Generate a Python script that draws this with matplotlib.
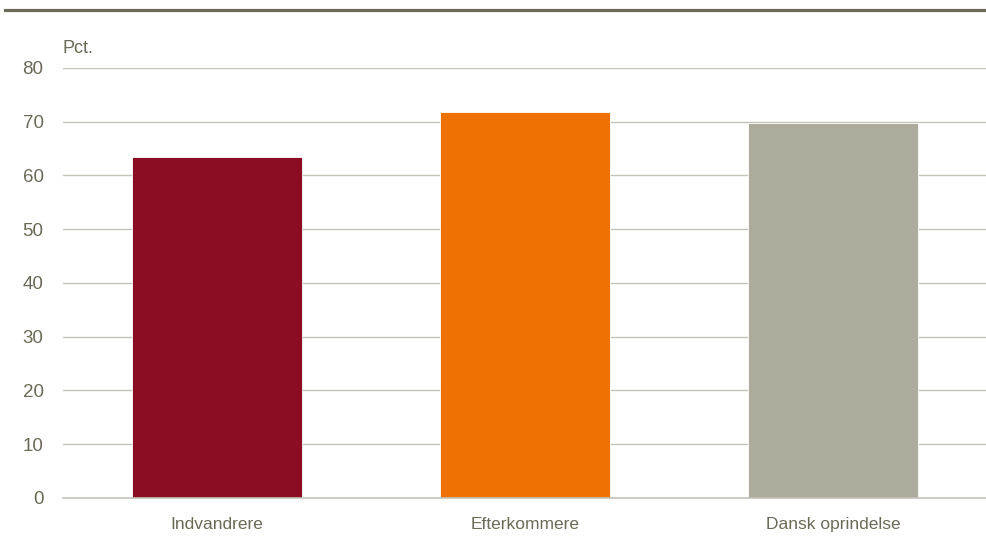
import matplotlib.pyplot as plt
from matplotlib.lines import Line2D

categories = ['Indvandrere', 'Efterkommere', 'Dansk oprindelse']
values = [63.4, 71.8, 69.8]
colors = ['#8B0D23', '#EE7203', '#ADAB9B']
yticks = [0, 10, 20, 30, 40, 50, 60, 70, 80]

text_color = '#6B6A58'
grid_color = '#C4C3B8'

plt.rcParams['font.family'] = ['Liberation Sans', 'DejaVu Sans']

fig = plt.figure(figsize=(9.87, 5.44), dpi=100)
ax = fig.add_axes([0.0638, 0.0846, 0.936, 0.7904])

x = list(range(len(categories)))
ax.bar(x, values, width=0.55, color=colors, zorder=3, edgecolor='white', linewidth=0.6)

ax.set_xlim(-0.5, 2.5)
ax.set_ylim(0, 80)
ax.set_yticks(yticks)
ax.set_xticks(x)
ax.set_xticklabels(categories)
ax.grid(axis='y', color=grid_color, linewidth=1, zorder=0)
ax.axhline(0, color=grid_color, linewidth=1.2, zorder=4, clip_on=False)
ax.set_axisbelow(True)

for s in ax.spines.values():
    s.set_visible(False)
ax.tick_params(axis='both', length=0, colors=text_color, labelsize=13.5)
ax.tick_params(axis='y', pad=14)
ax.tick_params(axis='x', pad=14, labelsize=12.5)

ax.text(0.0, 1.025, 'Pct.', transform=ax.transAxes, color=text_color,
        fontsize=13, ha='left', va='bottom')

# thick rule at the top of the figure
fig.add_artist(Line2D([0.005, 1.0], [0.9825, 0.9825], transform=fig.transFigure,
                      color=text_color, linewidth=2.3))

fig.savefig('out.png', dpi=100)
